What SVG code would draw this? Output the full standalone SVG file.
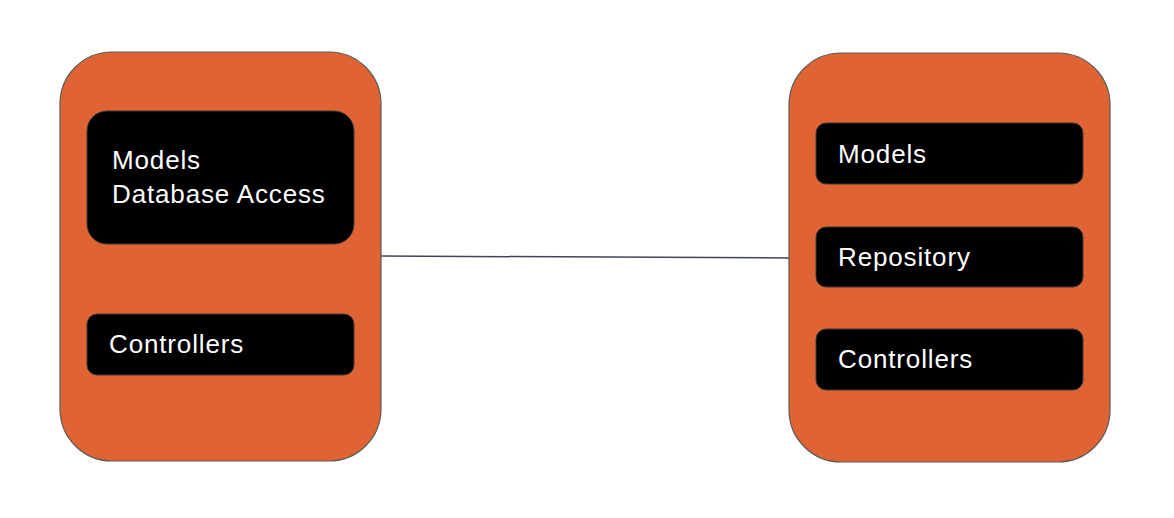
<svg xmlns="http://www.w3.org/2000/svg" width="1174" height="518" viewBox="0 0 1174 518">
<style>
.outer{fill:#E06433;stroke:#5a5a5a;stroke-width:1.2}
.inner{fill:#000;stroke:#3a3a3a;stroke-width:1}
.lbl{font-family:"Liberation Sans",Arial,sans-serif;font-size:26px;letter-spacing:0.85px;fill:#fff}
.conn{stroke:#3f4658;stroke-width:1.5;fill:none}
</style>
<rect width="1174" height="518" fill="#ffffff"/>
<g id="connectors">
<line class="conn" x1="381" y1="256" x2="790" y2="258"/>
</g>
<g id="left-app">
<rect class="outer" x="60" y="52" width="321" height="409" rx="52" ry="52"/>
<g id="left-models">
<rect class="inner" x="87" y="111" width="267" height="133" rx="20" ry="20"/>
<text class="lbl" x="112" y="169">Models</text>
<text class="lbl" x="112" y="203">Database Access</text>
</g>
<g id="left-controllers">
<rect class="inner" x="87" y="314" width="267" height="61" rx="10" ry="10"/>
<text class="lbl" x="109" y="353">Controllers</text>
</g>
</g>
<g id="right-app">
<rect class="outer" x="789" y="53" width="321" height="409" rx="52" ry="52"/>
<g id="right-models">
<rect class="inner" x="816" y="123" width="267" height="61" rx="10" ry="10"/>
<text class="lbl" x="838" y="163">Models</text>
</g>
<g id="right-repository">
<rect class="inner" x="816" y="227" width="267" height="60" rx="10" ry="10"/>
<text class="lbl" x="838" y="266">Repository</text>
</g>
<g id="right-controllers">
<rect class="inner" x="816" y="329" width="267" height="61" rx="10" ry="10"/>
<text class="lbl" x="838" y="368">Controllers</text>
</g>
</g>
</svg>
